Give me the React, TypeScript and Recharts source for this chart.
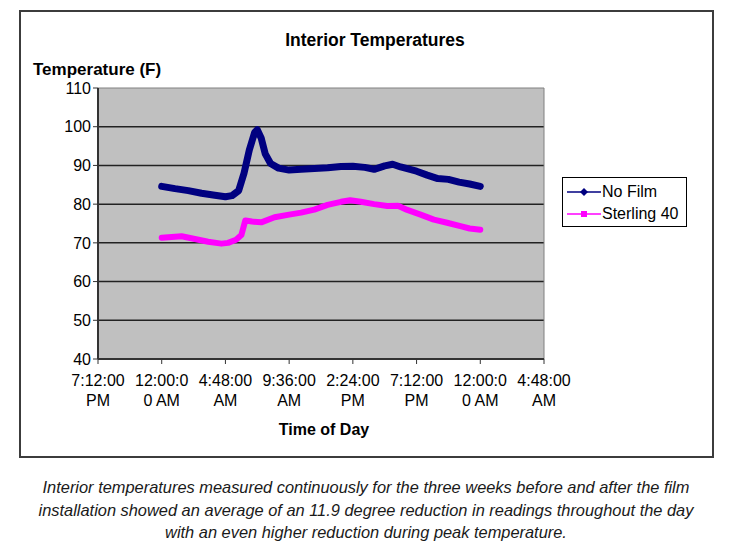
import React from 'react';
import { LineChart, Line, XAxis, YAxis, CartesianGrid, ReferenceArea } from 'recharts';

const noFilmHours = [0, 1, 2, 3, 4, 4.8, 5.3, 5.8, 6.2, 6.6, 7.0, 7.2, 7.5, 7.8, 8.2, 8.8, 9.6, 10.5, 11.5, 12.5, 13.5, 14.4, 15.3, 16, 16.8, 17.4, 18, 19.2, 20, 20.8, 21.6, 22.4, 23.2, 24];
const noFilmTemps = [84.6, 84.0, 83.5, 82.8, 82.3, 81.9, 82.2, 83.5, 88, 94, 98.5, 99.2, 97, 93, 90.5, 89.3, 88.8, 89, 89.2, 89.4, 89.7, 89.8, 89.5, 89.0, 89.9, 90.3, 89.6, 88.5, 87.5, 86.6, 86.4, 85.7, 85.2, 84.6];

const sterlingHours = [0, 1, 1.5, 2.5, 3.5, 4.5, 5, 5.6, 6.0, 6.3, 6.8, 7.5, 8.5, 9.6, 10.5, 11.5, 12.5, 13.5, 14.2, 15, 16, 17, 17.8, 18.5, 19.5, 20.5, 21.5, 22.5, 23.2, 24];
const sterlingTemps = [71.3, 71.6, 71.7, 71.0, 70.3, 69.8, 70.0, 70.8, 72, 75.8, 75.5, 75.3, 76.6, 77.3, 77.8, 78.6, 79.8, 80.6, 81.0, 80.6, 80.0, 79.5, 79.6, 78.5, 77.3, 76.0, 75.2, 74.3, 73.7, 73.4];

const xTicks = [-4.8, 0, 4.8, 9.6, 14.4, 19.2, 24, 28.8];
const xTickLabels = ['7:12:00|PM', '12:00:0|0 AM', '4:48:00|AM', '9:36:00|AM', '2:24:00|PM', '7:12:00|PM', '12:00:0|0 AM', '4:48:00|AM'];
const yTicks = [40, 50, 60, 70, 80, 90, 100, 110];
const gridValues = [50, 60, 70, 80, 90, 100];
const seriesNames = ['No Film', 'Sterling 40'];

const noFilmData = noFilmHours.map((h, i) => ({ h, t: noFilmTemps[i] }));
const sterlingData = sterlingHours.map((h, i) => ({ h, t: sterlingTemps[i] }));

const FONT = '"Liberation Sans", Arial, sans-serif';

const XTick = (props: any) => {
  const { x, y, index } = props;
  const [a, b] = xTickLabels[index].split('|');
  return (
    <text x={x} y={y} textAnchor="middle" fontSize={16} fill="#000" fontFamily={FONT}>
      <tspan x={x} dy={20}>{a}</tspan>
      <tspan x={x} dy={20}>{b}</tspan>
    </text>
  );
};

const LegendBox = () => (
  <div style={{ position: 'absolute', left: 562, top: 177, border: '1px solid #000', background: '#fff', width: 125, height: 50, boxSizing: 'border-box', padding: '3px 0 0 4px', fontFamily: FONT, fontSize: 16, color: '#000' }}>
    <div style={{ display: 'flex', alignItems: 'center', height: 22 }}>
      <svg width={34} height={12}>
        <line x1={0} y1={6} x2={34} y2={6} stroke="#000080" strokeWidth={1.5} />
        <polygon points="17,2 21,6 17,10 13,6" fill="#000080" />
      </svg>
      <span style={{ marginLeft: 1 }}>{seriesNames[0]}</span>
    </div>
    <div style={{ display: 'flex', alignItems: 'center', height: 22 }}>
      <svg width={34} height={12}>
        <line x1={0} y1={6} x2={34} y2={6} stroke="#FF00FF" strokeWidth={1.5} />
        <rect x={14} y={3} width={6} height={6} fill="#FF00FF" />
      </svg>
      <span style={{ marginLeft: 1 }}>{seriesNames[1]}</span>
    </div>
  </div>
);

export default function App() {
  return (
    <div style={{ position: 'absolute', left: 0, top: 0, width: 730, height: 547, background: '#fff', fontFamily: FONT }}>
      <div style={{ position: 'absolute', left: 19, top: 10, width: 695, height: 448, border: '2px solid #3c3c3c', boxSizing: 'border-box' }} />
      <div style={{ position: 'absolute', left: 0, top: 0 }}>
        <LineChart width={730} height={547} margin={{ top: 88, right: 186, bottom: 148, left: 38 }}>
          <CartesianGrid horizontalValues={gridValues} vertical={false} stroke="#222" strokeWidth={1.5} fill="#C0C0C0" />
          <ReferenceArea x1={-4.8} x2={28.8} y1={40} y2={110} fill="none" stroke="#808080" strokeWidth={1} ifOverflow="visible" />
          <XAxis type="number" dataKey="h" domain={[-4.8, 28.8]} ticks={xTicks} interval={0} tick={<XTick />} tickSize={5} axisLine={{ stroke: '#333', strokeWidth: 2 }} tickLine={{ stroke: '#333' }} height={40} allowDataOverflow />
          <YAxis type="number" domain={[40, 110]} ticks={yTicks} interval={0} width={60} tickSize={5} tick={{ fontSize: 16, fill: '#000', fontFamily: FONT }} axisLine={{ stroke: '#333', strokeWidth: 2 }} tickLine={{ stroke: '#333' }} />
          <Line data={sterlingData} name={seriesNames[1]} dataKey="t" type="linear" stroke="#FF00FF" strokeWidth={6} dot={false} isAnimationActive={false} strokeLinejoin="round" strokeLinecap="round" />
          <Line data={noFilmData} name={seriesNames[0]} dataKey="t" type="linear" stroke="#000080" strokeWidth={7} dot={false} isAnimationActive={false} strokeLinejoin="round" strokeLinecap="round" />
        </LineChart>
      </div>
      <LegendBox />
      <div style={{ position: 'absolute', left: 0, width: 750, top: 30, textAlign: 'center', fontWeight: 'bold', fontSize: 17.5 }}>Interior Temperatures</div>
      <div style={{ position: 'absolute', left: 33, top: 60, fontWeight: 'bold', fontSize: 17 }}>Temperature (F)</div>
      <div style={{ position: 'absolute', left: 224, width: 200, top: 421, textAlign: 'center', fontWeight: 'bold', fontSize: 16 }}>Time of Day</div>
      <div style={{ position: 'absolute', left: 0, width: 732, top: 476, textAlign: 'center', fontStyle: 'italic', fontSize: 16.4, lineHeight: '22.5px', color: '#1a1a1a' }}>
        Interior temperatures measured continuously for the three weeks before and after the film<br />
        installation showed an average of an 11.9 degree reduction in readings throughout the day<br />
        with an even higher reduction during peak temperature.
      </div>
    </div>
  );
}
